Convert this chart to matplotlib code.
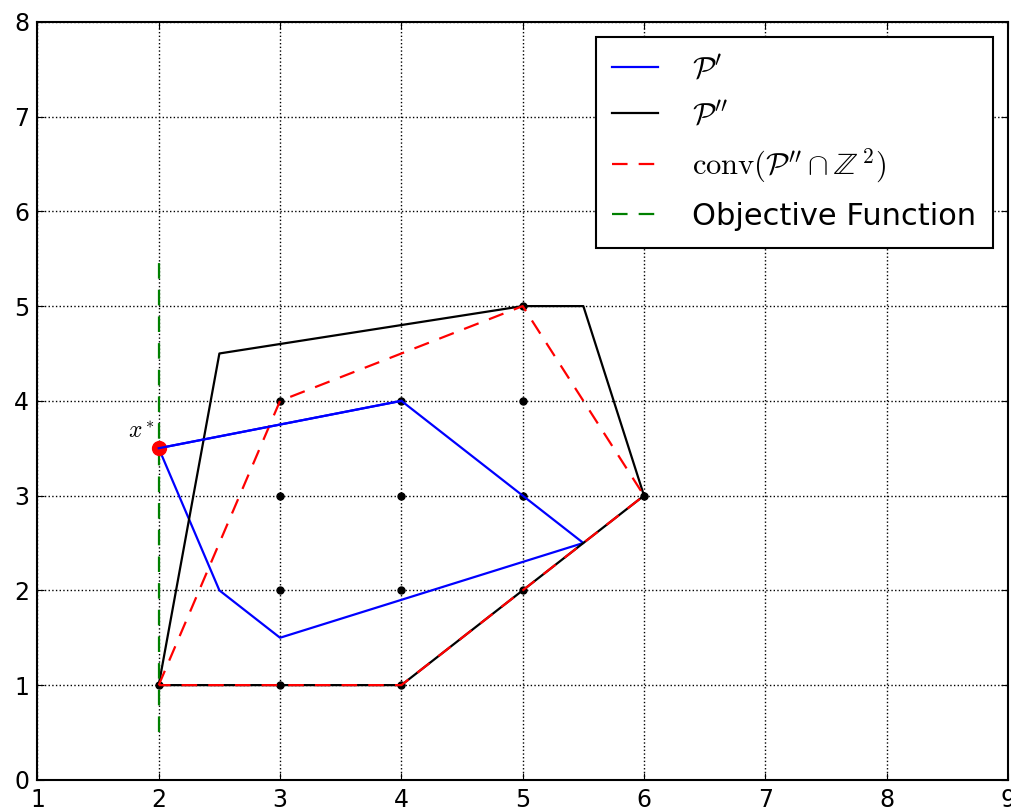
import matplotlib
matplotlib.use("Agg")
import matplotlib.pyplot as plt

plt.rcParams['mathtext.fontset'] = 'cm'
plt.rcParams['font.family'] = ['DejaVu Sans']

# P' polygon (blue)
p1_x = [2, 4, 5, 5.5, 3, 2.5, 2]
p1_y = [3.5, 4, 3, 2.5, 1.5, 2, 3.5]
# P'' polygon (black)
p2_x = [2, 2.5, 5, 5.5, 6, 4, 2]
p2_y = [1, 4.5, 5, 5, 3, 1, 1]
# conv(P'' ∩ Z^2) (red dashed)
conv_x = [2, 3, 5, 6, 4, 2]
conv_y = [1, 4, 5, 3, 1, 1]
# integer points
int_x = [2, 3, 4, 3, 4, 5, 3, 4, 5, 6, 3, 4, 5, 5]
int_y = [1, 1, 1, 2, 2, 2, 3, 3, 3, 3, 4, 4, 4, 5]
# objective function
obj_x = [2, 2]
obj_y = [0.5, 5.5]
# optimum
xstar = (2, 3.5)

fig = plt.figure(figsize=(10.11, 8.09), dpi=100)
ax = fig.add_axes([0.037, 0.036, 0.960, 0.937])

dash = (7, 5)
ax.plot(int_x, int_y, 'o', color='black', markersize=5, zorder=2)
ax.plot(p1_x, p1_y, '-', color='blue', lw=1.6, label=r"$\mathcal{P}'$", zorder=3)
ax.plot(p2_x, p2_y, '-', color='black', lw=1.6, label=r"$\mathcal{P}''$", zorder=3)
ax.plot(conv_x, conv_y, '--', dashes=dash, color='red', lw=1.6,
        label=r"$\mathrm{conv}(\mathcal{P}''\cap\mathbb{Z}^{\,2})$", zorder=4)
ax.plot(obj_x, obj_y, '--', dashes=dash, color='green', lw=1.6, label='Objective Function', zorder=4)
ax.plot([xstar[0]], [xstar[1]], 'o', color='red', markersize=10, markeredgecolor='red', zorder=5)
ax.plot(p1_x[:2], p1_y[:2], '-', color='blue', lw=1.6, zorder=6)
ax.text(1.86, 3.55, r"$x^*$", fontsize=17, ha='center', va='bottom')

ax.set_xlim(1, 9)
ax.set_ylim(0, 8)
ax.set_xticks(range(1, 10))
ax.set_yticks(range(0, 9))
ax.grid(True, linestyle=':', color='black', lw=1)
ax.tick_params(direction='in', labelsize=17, length=5, top=True, right=True, pad=6)
for s in ax.spines.values():
    s.set_linewidth(1.5)

leg = ax.legend(loc='upper right', fontsize=22, handlelength=1.5, borderpad=0.55,
                labelspacing=0.55, handletextpad=1.1, fancybox=False, framealpha=1,
                borderaxespad=0.5)
leg.get_frame().set_edgecolor('black')
leg.get_frame().set_linewidth(1.5)

fig.savefig('out.png', dpi=100)
